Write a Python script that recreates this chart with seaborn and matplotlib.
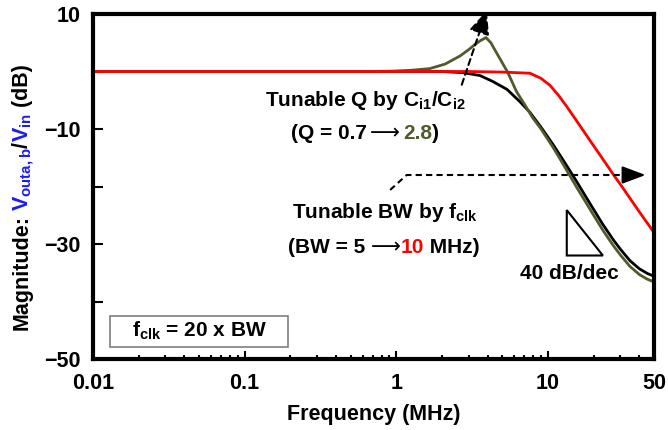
import matplotlib
matplotlib.use('Agg')
import matplotlib.pyplot as plt
import seaborn as sns
import pandas as pd
from matplotlib.patches import Polygon, Rectangle
from matplotlib.ticker import FixedLocator, LogLocator, NullFormatter

# values (frequency in MHz, magnitude in dB)
freq_black = [0.01, 0.1, 1, 2, 2.75, 3.56, 4.3, 5.36, 6.5, 7.6, 9.0, 10.8, 12.3, 13.9,
              15.5, 17.5, 20, 23, 27, 30, 34.7, 40, 45, 50]
mag_black = [0, 0, 0, 0, -0.2, -0.7, -1.7, -3.1, -5.2, -7.1, -9.7, -12.7, -15.0, -17.2,
             -19.2, -21.5, -24.0, -26.6, -29.3, -30.9, -32.9, -34.3, -35.1, -35.6]

freq_green = [0.01, 0.1, 0.6, 0.91, 1.23, 1.66, 2.1, 2.63, 3.0, 3.3, 3.6, 3.9, 4.2, 4.5,
              4.9, 5.44, 6.2, 7.0, 7.9, 9.0, 10.8, 12.0, 13.3, 15.5, 18, 20, 23, 27, 30,
              34.7, 40, 45, 50]
mag_green = [0, 0, 0, 0.05, 0.2, 0.5, 1.3, 2.7, 3.8, 4.7, 5.4, 5.9, 5.0, 3.6,
             1.9, -0.2, -3.5, -5.7, -8.0, -10.0, -13.2, -15.2, -17.2, -20.2, -23.0, -25.0,
             -27.6, -30.3, -31.9, -33.9, -35.3, -36.1, -36.6]

freq_red = [0.01, 0.1, 1, 3, 5, 7.6, 9, 10.3, 11.7, 13.3, 15, 17, 19.5, 22, 24.5, 27.6,
            30.5, 33.6, 40, 45, 50]
mag_red = [0, 0, 0, 0, -0.1, -0.3, -1.2, -2.4, -4.1, -6.1, -8.1, -10.2, -12.5, -14.5,
           -16.3, -18.3, -19.9, -21.5, -24.4, -26.3, -28.0]

x_ticks = [0.01, 0.1, 1, 10, 50]
x_labels = ['0.01', '0.1', '1', '10', '50']
y_major = [10, -10, -30, -50]
y_minor = [0, -20, -40]

RED = '#ff0000'
OLIVE = '#4f5b2b'
BLUE = '#1a1aff'

sns.set_style('ticks')
plt.rcParams['font.family'] = ['Liberation Sans', 'DejaVu Sans']
plt.rcParams['font.weight'] = 'bold'
plt.rcParams['text.color'] = 'black'
plt.rcParams['axes.labelcolor'] = 'black'
plt.rcParams['axes.edgecolor'] = 'black'
plt.rcParams['xtick.color'] = 'black'
plt.rcParams['ytick.color'] = 'black'
plt.rcParams['mathtext.fontset'] = 'custom'
plt.rcParams['mathtext.rm'] = 'Liberation Sans:bold'
plt.rcParams['mathtext.it'] = 'Liberation Sans:bold'
plt.rcParams['mathtext.bf'] = 'Liberation Sans:bold'
plt.rcParams['mathtext.default'] = 'rm'

W, H = 668, 430
fig = plt.figure(figsize=(W / 100, H / 100), dpi=100)
ax = fig.add_axes([93 / W, 1 - 359 / H, 561 / W, 345 / H])

df_black = pd.DataFrame({'freq': freq_black, 'mag': mag_black})
df_green = pd.DataFrame({'freq': freq_green, 'mag': mag_green})
df_red = pd.DataFrame({'freq': freq_red, 'mag': mag_red})

sns.lineplot(data=df_black, x='freq', y='mag', color='black', lw=2, ax=ax,
             estimator=None, sort=False)
sns.lineplot(data=df_green, x='freq', y='mag', color=OLIVE, lw=2, ax=ax,
             estimator=None, sort=False)
sns.lineplot(data=df_red, x='freq', y='mag', color=RED, lw=2, ax=ax,
             estimator=None, sort=False)

ax.set_xscale('log')
ax.set_xlim(0.01, 50)
ax.set_ylim(-50, 10)
ax.set_xticks(x_ticks)
ax.set_xticklabels(x_labels)
ax.xaxis.set_minor_locator(LogLocator(base=10, subs=range(2, 10)))
ax.xaxis.set_minor_formatter(NullFormatter())
ax.set_yticks(y_major)
ax.yaxis.set_minor_locator(FixedLocator(y_minor))
ax.tick_params(axis='both', which='both', direction='in', labelsize=15.5, width=1.5,
               top=False, right=False, colors='black')
ax.tick_params(axis='x', which='major', length=6, pad=10)
ax.tick_params(axis='x', which='minor', length=3)
ax.tick_params(axis='y', which='both', length=7, pad=9)
for lab in ax.get_xticklabels() + ax.get_yticklabels():
    lab.set_fontweight('bold')
for sp in ax.spines.values():
    sp.set_linewidth(3)
    sp.set_color('black')
    sp.set_visible(True)
ax.set_xlabel('Frequency (MHz)', fontsize=15.5, fontweight='bold', labelpad=7,
              color='black')
ax.set_ylabel('')

renderer = fig.canvas.get_renderer()


def colored_text(x_px, y_px, pieces, size, vertical=False):
    # pieces of (string, colour, extra gap px, font family or None) along the baseline
    items = []
    total = 0
    for s, c, gap, fam in pieces:
        kw = {'family': fam, 'fontweight': 'normal'} if fam else {'fontweight': 'bold'}
        t = fig.text(0, 0, s, color=c, fontsize=size,
                     rotation=90 if vertical else 0, rotation_mode='anchor',
                     ha='left', va='baseline', **kw)
        bb = t.get_window_extent(renderer)
        length = (bb.height if vertical else bb.width) + gap
        items.append((t, length))
        total += length
    pos = -total / 2
    for t, length in items:
        if vertical:
            t.set_position((x_px / W, (H - y_px + pos) / H))
        else:
            t.set_position(((x_px + pos) / W, (H - y_px) / H))
        pos += length


colored_text(28, 197, [('Magnitude:', 'black', 4, None),
                       (r'V$_{outa,b}$', BLUE, 0, None),
                       ('/', 'black', 0, None),
                       (r'V$_{in}$', BLUE, 0, None),
                       (' (dB)', 'black', 0, None)], 15.5, vertical=True)

ax.text(0.62, -5.0, r'Tunable Q by C$_{i1}$/C$_{i2}$', fontsize=15, fontweight='bold',
        ha='center', va='center')
colored_text(365, 139, [('(Q = 0.7', 'black', 3, None),
                        ('\u27f6', 'black', 3, 'DejaVu Sans'),
                        ('2.8', OLIVE, 0, None),
                        (')', 'black', 0, None)], 15)
ax.text(0.84, -24.6, r'Tunable BW by f$_{clk}$', fontsize=15, fontweight='bold',
        ha='center', va='center')
colored_text(384, 253, [('(BW = 5 ', 'black', 0, None),
                        ('\u27f6', 'black', 0, 'DejaVu Sans'),
                        ('10', RED, 0, None),
                        (' MHz)', 'black', 0, None)], 15)
ax.text(13.9, -35.2, '40 dB/dec', fontsize=15, fontweight='bold', ha='center',
        va='center')

# dashed arrows
ax.annotate('', xy=(3.95, 10.6), xytext=(2.7, -2.3), annotation_clip=False,
            arrowprops=dict(arrowstyle='-|>,head_length=0.8,head_width=0.35',
                            color='black', lw=1.5, ls=(0, (3, 2)), mutation_scale=18,
                            shrinkA=0, shrinkB=0))
ax.plot([0.91, 1.17, 38], [-20.6, -18.0, -18.0], color='black', lw=1.5,
        ls=(0, (3, 2)))
ax.annotate('', xy=(44, -18.0), xytext=(36, -18.0), annotation_clip=False,
            arrowprops=dict(arrowstyle='-|>,head_length=0.8,head_width=0.3',
                            color='black', lw=1.5, mutation_scale=18,
                            shrinkA=0, shrinkB=0))

# slope triangle
ax.add_patch(Polygon([(13.3, -24.1), (13.3, -32.0), (23.0, -32.0)], closed=True,
                     fill=False, ec='black', lw=1.5))

# f_clk box
ax.add_patch(Rectangle((0.030, 0.035), 0.318, 0.09, transform=ax.transAxes,
                       fill=False, ec='#7f7f7f', lw=1.2))
ax.text(0.189, 0.081, r'f$_{clk}$ = 20 x BW', transform=ax.transAxes, fontsize=15,
        fontweight='bold', ha='center', va='center')

plt.savefig('out.png', dpi=100)
